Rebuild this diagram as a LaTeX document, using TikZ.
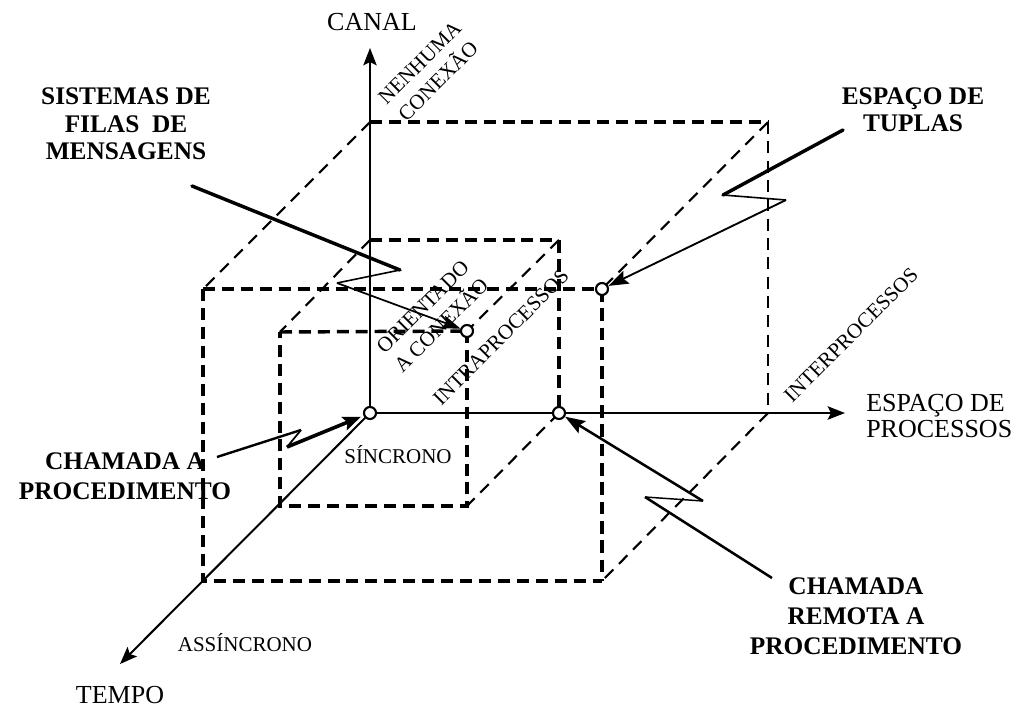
\documentclass[tikz,border=0pt]{standalone}
\usepackage{fontspec}
\setmainfont{Liberation Serif}
\usetikzlibrary{arrows.meta}

\begin{document}
\begin{tikzpicture}[x=0.75pt,y=-0.75pt,
  % dashed edges of the two cubes
  face/.style={line width=2.6pt, dash pattern=on 9pt off 5.2pt},
  heavy/.style={line width=3.6pt, dash pattern=on 9.5pt off 5pt},
  backv/.style={line width=1.9pt, dash pattern=on 9pt off 5.5pt},
  edge/.style={line width=1.6pt, dash pattern=on 9pt off 6pt},
  % axes and markers
  axisline/.style={line width=1.5pt, -{Stealth[length=13pt,width=10pt,inset=2.5pt]}},
  dot/.style={circle, draw, fill=white, line width=1.6pt, minimum size=9pt, inner sep=0pt},
  tipstyle/.style={-{Stealth[length=14pt,width=10pt,inset=2.5pt]}},
  % labels
  boldlbl/.style={font=\fontsize{19}{20.6}\selectfont\bfseries, align=center, inner sep=0pt},
  axislbl/.style={font=\fontsize{19.5}{19.5}\selectfont, inner sep=0pt},
  smalllbl/.style={font=\fontsize{15.75}{19.5}\selectfont, inner sep=0pt, align=center},
]
\useasboundingbox (0,0) rectangle (1022,708);

% corner points
\coordinate (pO)  at (370,413);
\coordinate (pC2) at (559,413);
\coordinate (pC3) at (467,331);
\coordinate (pC4) at (602,289);
\coordinate (ytip) at (370,48);
\coordinate (xtip) at (845,413);
\coordinate (ztip) at (120,664);
\coordinate (bb1) at (370,122);
\coordinate (bb2) at (768,122);
\coordinate (bb3) at (768,413);
\coordinate (bf1) at (203,289);
\coordinate (bf3) at (602,581);
\coordinate (bf4) at (203,581);
\coordinate (sb1) at (370,240);
\coordinate (sb2) at (559,240);
\coordinate (sf1) at (280,332);
\coordinate (sf3) at (467,506);
\coordinate (sf4) at (280,506);

% receding edges
\draw[edge] (bb1) -- (bf1);
\draw[edge] (bb2) -- (pC4);
\draw[edge] (bb3) -- (bf3);
\draw[edge] (sb1) -- (sf1);
\draw[edge] (sb2) -- (pC3);
\draw[edge] (pC2) -- (sf3);

% back faces
\draw[face] (bb1) -- (bb2);
\draw[backv] (bb2) -- (bb3);
\draw[face] (sb1) -- (sb2);
\draw[heavy] (sb2) -- (pC2);

% front faces
\draw[face] (bf1) -- (pC4);
\draw[heavy] (pC4) -- (bf3);
\draw[face] (bf1) -- (bf4) -- (bf3);
\draw[face] (sf1) -- (pC3);
\draw[face] (pC3) -- (sf3) -- (sf4) -- (sf1);

% axes
\draw[axisline] (pO) -- (ytip);
\draw[axisline, line width=1.8pt] (pO) -- (xtip);
\draw[axisline] (pO) -- (ztip);

% marked points
\node[dot] (o)  at (pO)  {};
\node[dot] (c2) at (pC2) {};
\node[dot] (c3) at (pC3) {};
\node[dot] (c4) at (pC4) {};

% labels
\node[axislbl, anchor=base] (canal) at (372,30) {CANAL};
\node[axislbl, anchor=west, align=left, font=\fontsize{19.5}{19.5}\selectfont] (espproc) at (866,416) {ESPAÇO DE\\PROCESSOS};
\node[axislbl, anchor=base] (tempo) at (120,703) {TEMPO};
\node[smalllbl, anchor=base] (sinc) at (398,463) {SÍNCRONO};
\node[smalllbl, anchor=base] (assinc) at (245,651) {ASSÍNCRONO};
\node[smalllbl, rotate=45] (nenhuma) at (429,72) {NENHUMA\\CONEXÃO};
\node[smalllbl, rotate=45] (orient) at (432,316) {ORIENTADO\\A CONEXÃO};
\node[smalllbl, rotate=45] (intra) at (501,337) {INTRAPROCESSOS};
\node[smalllbl, rotate=45] (inter) at (851,335) {INTERPROCESSOS};

\node[boldlbl] (sys) at (126,124) {SISTEMAS DE\\FILAS\ \ DE\\MENSAGENS};
\node[boldlbl, font=\fontsize{19}{20.3}\selectfont\bfseries] (tup) at (913,110) {ESPAÇO DE\\TUPLAS};
\node[boldlbl, font=\fontsize{19}{22.5}\selectfont\bfseries] (cham) at (125,476) {CHAMADA A\\PROCEDIMENTO};
\node[boldlbl, font=\fontsize{19}{22.5}\selectfont\bfseries] (rem) at (856,616) {CHAMADA\\REMOTA A\\PROCEDIMENTO};

% zig-zag pointers
\coordinate (sysA) at (192,186);
\coordinate (sysB) at (400,270);
\coordinate (sysC) at (337,283);
\draw[line width=2.6pt, line cap=round] (sysA) -- (sysB);
\draw[line width=1.2pt] (sysB) -- (sysC);
\draw[line width=1.3pt, tipstyle] (sysC) -- (c3);

\coordinate (tupA) at (843,130);
\coordinate (tupB) at (723,195);
\coordinate (tupC) at (786,200);
\draw[line width=2.6pt, line cap=round] (tupA) -- (tupB);
\draw[line width=1.2pt] (tupB) -- (tupC);
\draw[line width=1.4pt, -{Stealth[length=15pt,width=10.5pt,inset=2.5pt]}] (tupC) -- (c4);

\coordinate (chA) at (217,457);
\coordinate (chB) at (301,430);
\coordinate (chC) at (287,447);
\draw[line width=1.8pt] (chA) -- (chB);
\draw[line width=1.3pt] (chB) -- (chC);
\draw[line width=2.7pt, -{Stealth[length=13.5pt,width=10.5pt,inset=2.5pt]}, shorten >=2pt] (chC) -- (o);

\coordinate (rmA) at (772,578);
\coordinate (rmB) at (645,497);
\coordinate (rmC) at (703,501);
\draw[line width=1.9pt] (rmA) -- (rmB);
\draw[line width=1.1pt] (rmB) -- (rmC);
\draw[line width=1.9pt, -{Stealth[length=15pt,width=10.5pt,inset=2.5pt]}] (rmC) -- (c2);
\end{tikzpicture}
\end{document}
